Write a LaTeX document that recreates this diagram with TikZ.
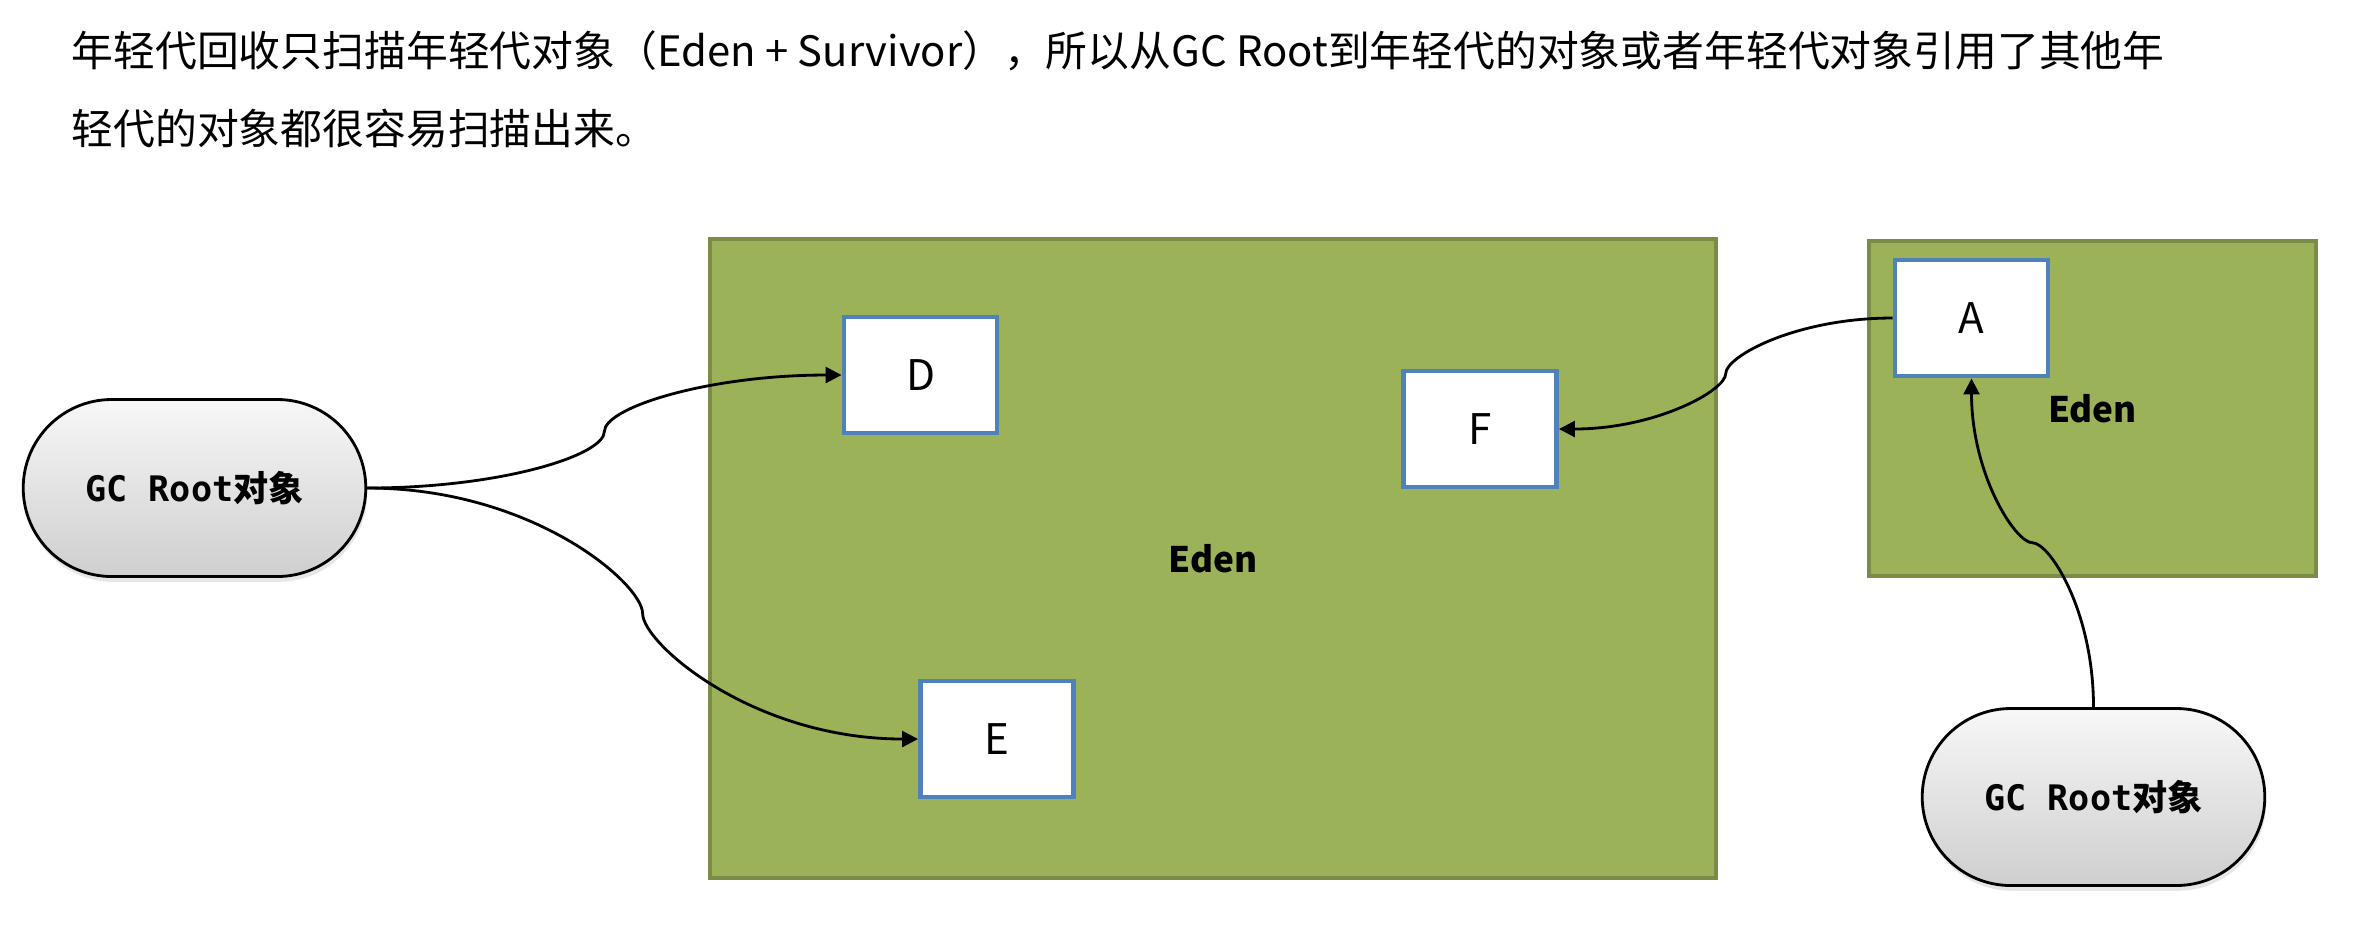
\documentclass[tikz,border=0pt]{standalone}
\usepackage{fontspec}
\setmainfont{Noto Sans CJK SC}
\newfontfamily\monofont{DejaVu Sans Mono}
\usetikzlibrary{calc}
\usetikzlibrary{arrows.meta}
\usetikzlibrary{shapes.misc}
\usetikzlibrary{shadows}

\definecolor{edenfill}{RGB}{155,178,88}
\definecolor{edenline}{RGB}{122,140,69}
\definecolor{objline}{RGB}{79,129,189}

\tikzset{
  region/.style={draw=edenline, line width=1.4pt, fill=edenfill, font=\bfseries\fontsize{10}{12}\selectfont},
  obj/.style={draw=objline, line width=1.4pt, fill=white, minimum width=1.53cm, minimum height=1.16cm, font=\fontsize{12}{14}\selectfont},
  root/.style={rounded rectangle, draw=black, line width=0.8pt, top color=gray!6, bottom color=gray!38,
    minimum width=3.66cm, minimum height=1.77cm, font=\bfseries\fontsize{10}{12}\selectfont,
    drop shadow={opacity=0.2, shadow xshift=0.4pt, shadow yshift=-1.5pt}},
  ref/.style={black, line width=0.8pt, -{Triangle[length=4.5pt,width=4.5pt]}},
  far/.style={out looseness=1.4, in looseness=0.25},
  near/.style={out looseness=0.25, in looseness=1.4}
}

\begin{document}
\begin{tikzpicture}
\useasboundingbox (0,0) rectangle (23.58,-9.31);
% heading
\node[anchor=west, inner sep=0, font=\fontsize{11.9}{14}\selectfont] (line1) at (0.71,-0.51)
  {年轻代回收只扫描年轻代对象（Eden + Survivor），所以从GC Root到年轻代的对象或者年轻代对象引用了其他年};
\node[anchor=west, inner sep=0, font=\fontsize{11.9}{14}\selectfont] (line2) at (0.71,-1.29)
  {轻代的对象都很容易扫描出来。};

% the two eden spaces
\node[region, minimum width=10.06cm, minimum height=6.39cm] (edenL) at (12.13,-5.585) {Eden};
\node[region, minimum width=4.47cm, minimum height=3.35cm] (edenR) at (20.925,-4.085) {Eden};

% objects
\node[obj] (D) at (9.205,-3.75) {D};
\node[obj] (E) at (9.97,-7.39) {E};
\node[obj] (F) at (14.80,-4.29) {F};
\node[obj] (A) at (19.715,-3.18) {A};

% gc roots
\node[root] (rootL) at (1.945,-4.88) {{\monofont GC Root}对象};
\node[root] (rootR) at (20.935,-7.97) {{\monofont GC Root}对象};

% references
\coordinate (mD) at ($(rootL.east)!.5!(D.west)$);
\coordinate (mE) at ($(rootL.east)!.5!(E.west)$);
\coordinate (mF) at ($(A.west)!.5!(F.east)$);
\coordinate (mA) at ($(rootR.north)!.5!(A.south)$);
\draw[ref] (rootL.east) to[out=0,in=-90,far] (mD) to[out=90,in=180,near] (D.west);
\draw[ref] (rootL.east) to[out=0,in=90,far] (mE) to[out=-90,in=180,near] (E.west);
\draw[ref] (A.west) to[out=180,in=90,far] (mF) to[out=-90,in=0,near] (F.east);
\draw[ref] (rootR.north) to[out=90,in=0,far] (mA) to[out=180,in=-90,near] (A.south);
\end{tikzpicture}
\end{document}
